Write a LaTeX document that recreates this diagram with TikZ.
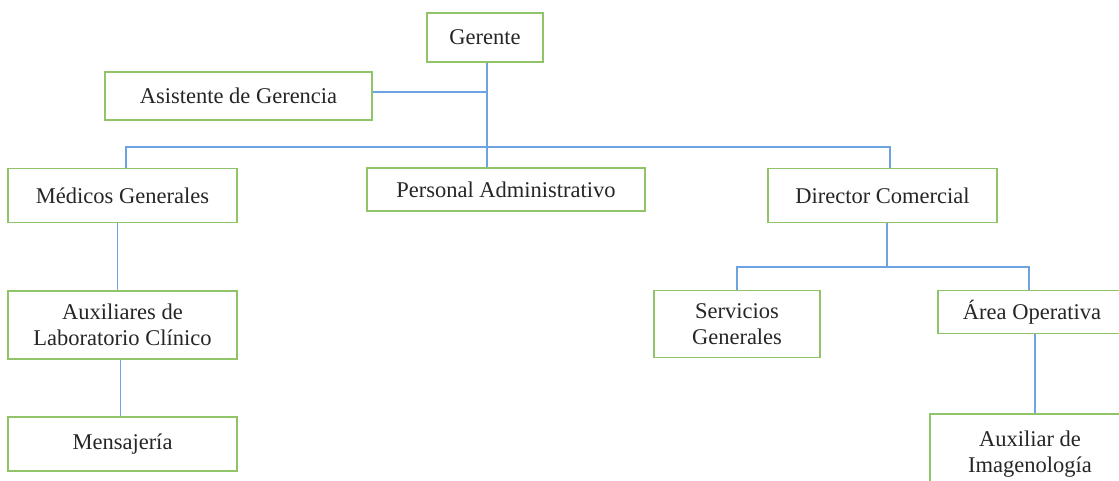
\documentclass[tikz,border=0pt]{standalone}
\usepackage{fontspec}
\setmainfont{Liberation Serif}
\definecolor{boxgreen}{RGB}{143,196,104}
\definecolor{lineblue}{RGB}{108,163,224}
\begin{document}
\begin{tikzpicture}[x=1pt,y=-1pt,
  box/.style={draw=boxgreen,line width=1.8pt,fill=white,inner sep=0pt,align=center,
    font=\fontsize{22.5}{26}\selectfont,text=black!85},
  conn/.style={draw=lineblue,line width=1.6pt}]
\clip (0,0) rectangle (1119,480);
\fill[white] (0,0) rectangle (1119,480);
\coordinate (b1) at (126,147);
\coordinate (b2) at (890,147);
\coordinate (b3) at (887,267);
% nodes
\node[box,minimum width=116pt,minimum height=49pt] (g) at (485,37.5) {Gerente};
\node[box,minimum width=267pt,minimum height=48pt] (as) at (238.5,96) {Asistente de Gerencia};
\node[box,minimum width=229pt,minimum height=54pt] (mg) at (122.5,195.5) {Médicos Generales};
\node[box,minimum width=278pt,minimum height=43pt] (pa) at (506,189.5) {Personal Administrativo};
\node[box,minimum width=229pt,minimum height=54pt] (dc) at (882.5,195.5) {Director Comercial};
\node[box,minimum width=229pt,minimum height=68pt] (al) at (122.5,325) {Auxiliares de\\Laboratorio Clínico};
\node[box,minimum width=229pt,minimum height=54pt] (me) at (122.5,444) {Mensajería};
\node[box,minimum width=166pt,minimum height=67pt] (sg) at (737,324) {Servicios\\Generales};
\node[box,minimum width=188pt,minimum height=43pt] (ao) at (1032,312) {Área Operativa};
\node[box,minimum width=200pt,minimum height=76pt] (ai) at (1030,452) {};
\node[font=\fontsize{22.5}{26}\selectfont,text=black!85,align=center,inner sep=0pt,anchor=base] (ait) at (1030,472) {Auxiliar de\\Imagenología};
% connectors
\draw[conn] ([xshift=2pt]g.south) -- ([xshift=2pt]g.south |- pa.north);
\draw[conn] (as.east |- 0,92) -- ([xshift=2pt]g.south |- 0,92);
\draw[conn] (b1 |- mg.north) -- (b1) -- (b2) -- (b2 |- dc.north);
\draw[conn] ([xshift=-5pt]mg.south) -- ([xshift=-5pt]mg.south |- al.north);
\draw[conn] ([xshift=-2pt]al.south) -- ([xshift=-2pt]al.south |- me.north);
\draw[conn] (dc.south -| b3) -- (b3);
\draw[conn] (sg.north) -- (sg.north |- b3) -- ([xshift=-3pt]ao.north |- b3) -- ([xshift=-3pt]ao.north);
\draw[conn] ([xshift=3pt]ao.south) -- ([xshift=3pt]ao.south |- ai.north);
\end{tikzpicture}
\end{document}
